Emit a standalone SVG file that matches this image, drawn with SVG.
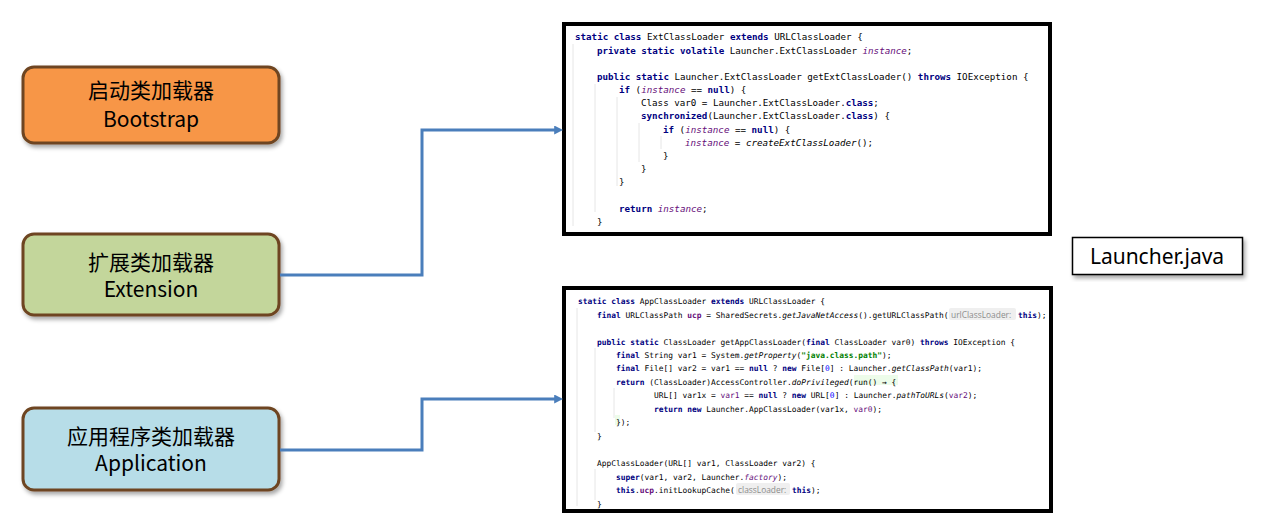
<svg xmlns="http://www.w3.org/2000/svg" width="1261" height="527" viewBox="0 0 1261 527">
<style>
.node{stroke:#6e4520;stroke-width:3}
.nt{font-family:"Noto Sans CJK SC","Noto Sans",sans-serif;font-size:21px;fill:#000;text-anchor:middle}
.conn{fill:none;stroke:#4a7ebb;stroke-width:3;stroke-linejoin:miter}
.shot{fill:#fff;stroke:#000;stroke-width:4}
.c1{font-family:"DejaVu Sans Mono","Liberation Mono",monospace;font-size:9.2px;fill:#000}
.c2{font-family:"DejaVu Sans Mono","Liberation Mono",monospace;font-size:7.9px;fill:#000}
.k{fill:#000080;font-weight:bold}
.iv{fill:#660e7a;font-style:italic}
.i{font-style:italic}
.f{fill:#660e7a;font-weight:bold}
.p{fill:#660e7a}
.s{fill:#008000;font-weight:bold}
.n{fill:#0000ff}
.hint{font-family:"Open Sans","Noto Sans",sans-serif;font-size:8.4px;fill:#8c8c8c}
.hb{fill:#efefef}
.guide{stroke:#e6e6e6;stroke-width:1}
</style>
<defs>
<filter id="sh" x="-10%" y="-10%" width="125%" height="130%">
<feDropShadow dx="2" dy="3" stdDeviation="2" flood-color="#000" flood-opacity="0.35"/>
</filter>
<marker id="arr" viewBox="0 0 10 10" refX="2" refY="5" markerWidth="9" markerHeight="9" markerUnits="userSpaceOnUse" orient="auto">
<path d="M0,0 L10,5 L0,10 z" fill="#4a7ebb"/>
</marker>
</defs>
<rect width="1261" height="527" fill="#fff"/>

<g id="bootstrap">
<rect class="node" x="23" y="67" width="256" height="76" rx="11" fill="#f79646" filter="url(#sh)"/>
<text class="nt" x="151" y="98">启动类加载器</text>
<text class="nt" x="151" y="127">Bootstrap</text>
</g>
<g id="extension">
<rect class="node" x="23" y="234" width="256" height="81" rx="11" fill="#c3d69b" filter="url(#sh)"/>
<text class="nt" x="151" y="270">扩展类加载器</text>
<text class="nt" x="151" y="297">Extension</text>
</g>
<g id="application">
<rect class="node" x="23" y="408" width="256" height="82" rx="11" fill="#b7dde8" filter="url(#sh)"/>
<text class="nt" x="151" y="444">应用程序类加载器</text>
<text class="nt" x="151" y="471">Application</text>
</g>

<g id="ext-code">
<rect class="shot" x="564" y="24" width="486" height="210"/>
<line class="guide" x1="573" y1="44" x2="573" y2="226"/>
<line class="guide" x1="595" y1="84" x2="595" y2="212"/>
<line class="guide" x1="617" y1="97" x2="617" y2="186"/>
<line class="guide" x1="639" y1="123" x2="639" y2="162"/>
<line class="guide" x1="661" y1="136" x2="661" y2="149"/>
<text class="c1" x="575" y="40"><tspan class="k">static class</tspan> ExtClassLoader <tspan class="k">extends</tspan> URLClassLoader {</text>
<text class="c1" x="597" y="54"><tspan class="k">private static volatile</tspan> Launcher.ExtClassLoader <tspan class="iv">instance</tspan>;</text>
<text class="c1" x="597" y="80"><tspan class="k">public static</tspan> Launcher.ExtClassLoader getExtClassLoader() <tspan class="k">throws</tspan> IOException {</text>
<text class="c1" x="619" y="93"><tspan class="k">if</tspan> (<tspan class="iv">instance</tspan> == <tspan class="k">null</tspan>) {</text>
<text class="c1" x="641" y="106">Class var0 = Launcher.ExtClassLoader.<tspan class="k">class</tspan>;</text>
<text class="c1" x="641" y="119"><tspan class="k">synchronized</tspan>(Launcher.ExtClassLoader.<tspan class="k">class</tspan>) {</text>
<text class="c1" x="663" y="133"><tspan class="k">if</tspan> (<tspan class="iv">instance</tspan> == <tspan class="k">null</tspan>) {</text>
<text class="c1" x="685" y="146"><tspan class="iv">instance</tspan> = <tspan class="i">createExtClassLoader</tspan>();</text>
<text class="c1" x="663" y="159">}</text>
<text class="c1" x="641" y="172">}</text>
<text class="c1" x="619" y="185">}</text>
<text class="c1" x="619" y="212"><tspan class="k">return</tspan> <tspan class="iv">instance</tspan>;</text>
<text class="c1" x="597" y="225">}</text>
</g>

<g id="app-code">
<rect class="shot" x="564" y="288" width="487" height="223"/>
<line class="guide" x1="577" y1="308" x2="577" y2="506"/>
<line class="guide" x1="595" y1="348" x2="595" y2="432"/>
<line class="guide" x1="595" y1="469" x2="595" y2="500"/>
<line class="guide" x1="614" y1="388" x2="614" y2="418"/>
<rect x="854" y="375" width="44" height="10" fill="#edfcea"/>
<rect x="615" y="415" width="5" height="10" fill="#edfcea"/>
<text class="c2" x="578" y="304"><tspan class="k">static class</tspan> AppClassLoader <tspan class="k">extends</tspan> URLClassLoader {</text>
<text class="c2" x="597" y="318"><tspan class="k">final</tspan> URLClassPath <tspan class="f">ucp</tspan> = SharedSecrets.<tspan class="i">getJavaNetAccess</tspan>().getURLClassPath(</text>
<rect class="hb" x="949" y="308" width="67" height="12" rx="2"/>
<text class="hint" x="951" y="317.5">urlClassLoader:</text>
<text class="c2" x="1018" y="318"><tspan class="k">this</tspan>);</text>
<text class="c2" x="597" y="345"><tspan class="k">public static</tspan> ClassLoader getAppClassLoader(<tspan class="k">final</tspan> ClassLoader var0) <tspan class="k">throws</tspan> IOException {</text>
<text class="c2" x="616" y="358"><tspan class="k">final</tspan> String var1 = System.<tspan class="i">getProperty</tspan>(<tspan class="s">"java.class.path"</tspan>);</text>
<text class="c2" x="616" y="371"><tspan class="k">final</tspan> File[] var2 = var1 == <tspan class="k">null</tspan> ? <tspan class="k">new</tspan> File[<tspan class="n">0</tspan>] : Launcher.<tspan class="i">getClassPath</tspan>(var1);</text>
<text class="c2" x="616" y="385"><tspan class="k">return</tspan> (ClassLoader)AccessController.<tspan class="i">doPrivileged</tspan>(run() → {</text>
<text class="c2" x="654" y="398">URL[] var1x = <tspan class="p">var1</tspan> == <tspan class="k">null</tspan> ? <tspan class="k">new</tspan> URL[<tspan class="n">0</tspan>] : Launcher.<tspan class="i">pathToURLs</tspan>(<tspan class="p">var2</tspan>);</text>
<text class="c2" x="654" y="412"><tspan class="k">return new</tspan> Launcher.AppClassLoader(var1x, <tspan class="p">var0</tspan>);</text>
<text class="c2" x="616" y="425">});</text>
<text class="c2" x="597" y="439">}</text>
<text class="c2" x="597" y="466">AppClassLoader(URL[] var1, ClassLoader var2) {</text>
<text class="c2" x="616" y="480"><tspan class="k">super</tspan>(var1, var2, Launcher.<tspan class="iv">factory</tspan>);</text>
<text class="c2" x="616" y="493"><tspan class="k">this</tspan>.<tspan class="f">ucp</tspan>.initLookupCache(</text>
<rect class="hb" x="736" y="483" width="54" height="12" rx="2"/>
<text class="hint" x="738" y="492.5">classLoader:</text>
<text class="c2" x="792" y="493"><tspan class="k">this</tspan>);</text>
<text class="c2" x="597" y="507">}</text>
</g>

<g id="launcher-label">
<rect x="1072.5" y="237.5" width="170" height="37" fill="#fff" stroke="#000" stroke-width="1.5" filter="url(#sh)"/>
<text x="1157" y="264" font-family="Noto Sans, sans-serif" font-size="21" text-anchor="middle" fill="#000">Launcher.java</text>
</g>

<g id="connectors">
<path class="conn" d="M280,275 H422 V130 H556" marker-end="url(#arr)"/>
<path class="conn" d="M280,450 H422 V399 H556" marker-end="url(#arr)"/>
</g>
</svg>
